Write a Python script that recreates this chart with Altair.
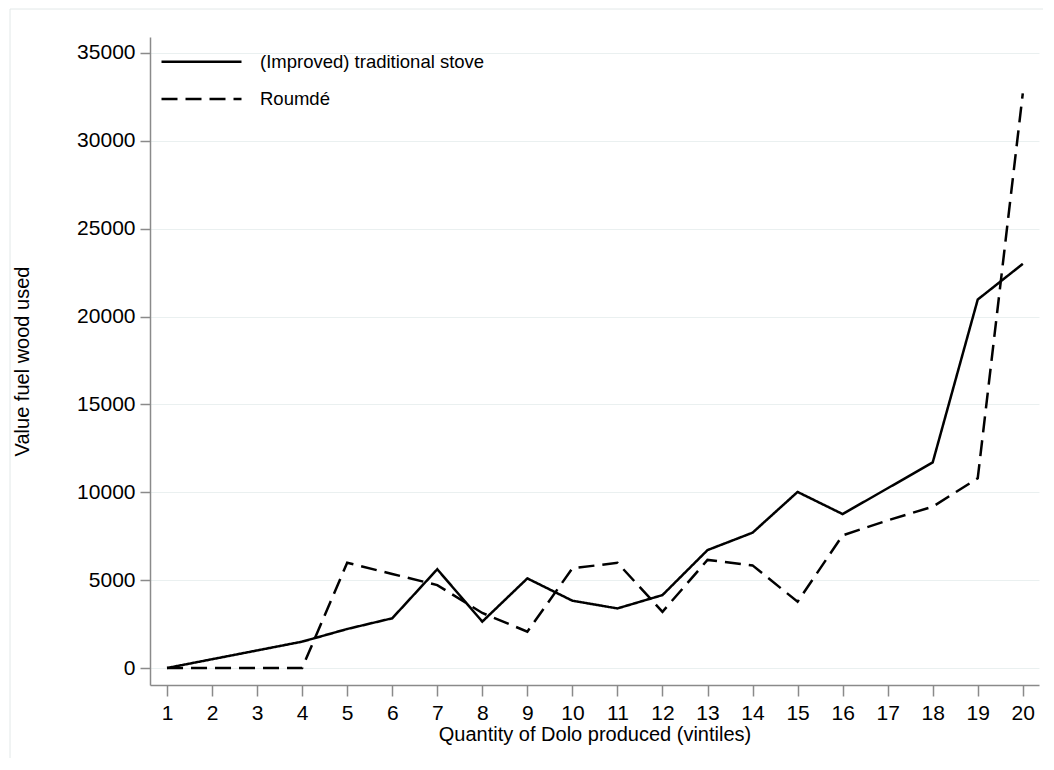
import altair as alt
import pandas as pd

vintiles = list(range(1, 21))
traditional = [0, 500, 1000, 1500, 2220, 2830, 5620, 2640, 5100, 3830,
               3390, 4150, 6710, 7700, 10020, 8760, 10230, 11700, 20970, 23000]
roumde = [0, 0, 0, 0, 5990, 5350, 4720, 3130, 2070, 5670,
          5990, 3200, 6150, 5840, 3770, 7550, 8400, 9180, 10800, 32700]
series_names = ["(Improved) traditional stove", "Roumdé"]
y_ticks = [0, 5000, 10000, 15000, 20000, 25000, 30000, 35000]

rows = []
for name, vals in zip(series_names, [traditional, roumde]):
    for q, v in zip(vintiles, vals):
        rows.append({"q": q, "v": v, "stove": name})
df = pd.DataFrame(rows)

FONT = "Liberation Sans"
AX = "#8a8a8a"

lines = alt.Chart(df).mark_line(color="black", strokeWidth=2.5, clip=False).encode(
    x=alt.X("q:Q",
            scale=alt.Scale(domain=[0.622, 20.36], nice=False, zero=False),
            axis=alt.Axis(values=vintiles, title="Quantity of Dolo produced (vintiles)",
                          format="d", grid=False, tickSize=11, labelPadding=6,
                          titlePadding=1)),
    y=alt.Y("v:Q",
            scale=alt.Scale(domain=[-967, 35910], nice=False, zero=False),
            axis=alt.Axis(values=y_ticks, title="Value fuel wood used", format="d",
                          grid=True, tickSize=10, labelPadding=5, titlePadding=44)),
    strokeDash=alt.StrokeDash(
        "stove:N",
        scale=alt.Scale(domain=series_names, range=[[1, 0], [16, 8]]),
        legend=alt.Legend(title=None, orient="none", legendX=10, legendY=13.7,
                          symbolType="stroke", symbolSize=6400, symbolStrokeWidth=2.5,
                          symbolStrokeColor="black", symbolDash=[15, 6.7],
                          clipHeight=22, rowPadding=15.3,
                          labelOffset=17, labelFontSize=18.5, labelFont=FONT,
                          labelColor="black", padding=0, labelLimit=600)),
    detail="stove:N",
)

frame_data = pd.DataFrame({"k": [0]})
frame_top = alt.Chart(frame_data).mark_rule(color="#e2e8e8", strokeWidth=1, clip=False).encode(
    x=alt.value(-140), x2=alt.value(900), y=alt.value(-28))
frame_left = alt.Chart(frame_data).mark_rule(color="#e2e8e8", strokeWidth=1, clip=False).encode(
    x=alt.value(-140), y=alt.value(-28), y2=alt.value(740))

chart = alt.layer(frame_top, frame_left, lines).properties(
    width=889, height=648,
    autosize=alt.AutoSizeParams(type="none"),
    padding={"left": 142, "top": 29, "right": 4, "bottom": 73},
    background="white",
).configure_view(stroke=None).configure_axis(
    labelFont=FONT, titleFont=FONT, labelFontSize=21, titleFontSize=20,
    titleFontWeight="normal", labelColor="black", titleColor="black",
    domainColor=AX, tickColor=AX, domainWidth=1.5, tickWidth=1.5,
    gridColor="#eaf0f0", gridWidth=1,
)

chart.save("out.html", embed_options={"renderer": "svg", "actions": False})
